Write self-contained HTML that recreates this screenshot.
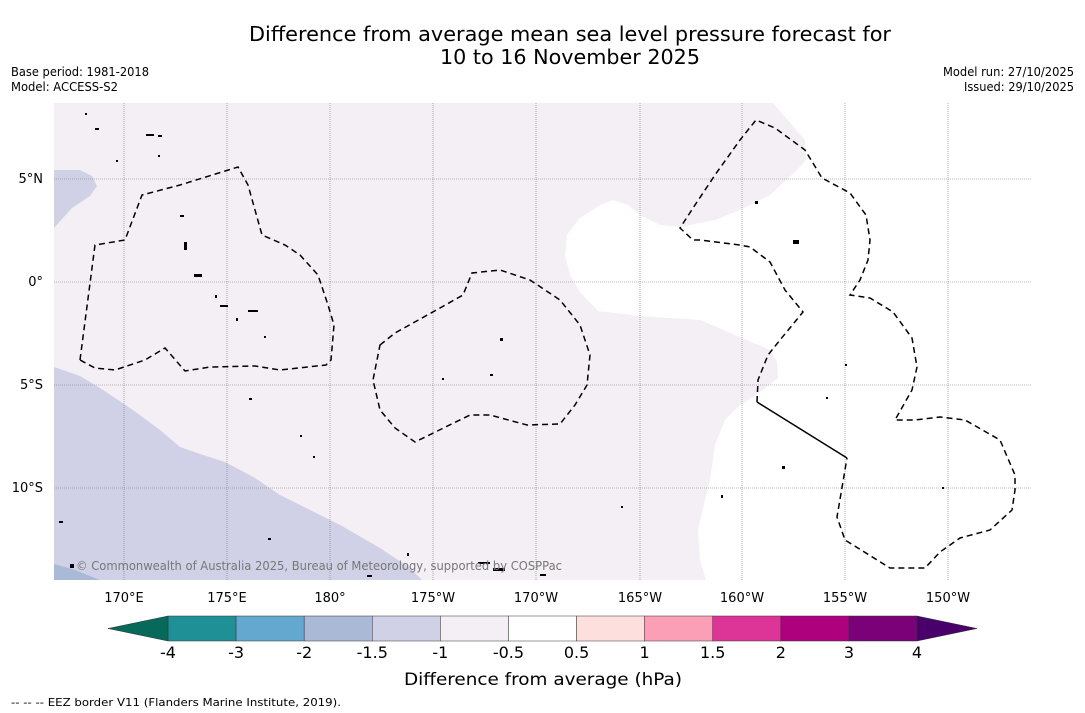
<!DOCTYPE html>
<html><head><meta charset="utf-8"><style>
html,body{margin:0;padding:0;background:#fff;}
svg{display:block;font-family:"DejaVu Sans","Liberation Sans",sans-serif;}
</style></head><body>
<svg id="fig" width="1085" height="713" viewBox="0 0 1085 713" xmlns="http://www.w3.org/2000/svg">
<text x="570" y="41" text-anchor="middle" font-size="20" textLength="642" lengthAdjust="spacingAndGlyphs">Difference from average mean sea level pressure forecast for</text>
<text x="570" y="64" text-anchor="middle" font-size="20" textLength="260" lengthAdjust="spacingAndGlyphs">10 to 16 November 2025</text>
<text x="11" y="76" font-size="12" textLength="138" lengthAdjust="spacingAndGlyphs">Base period: 1981-2018</text>
<text x="11" y="91" font-size="12" textLength="107" lengthAdjust="spacingAndGlyphs">Model: ACCESS-S2</text>
<text x="1074" y="76" font-size="12" text-anchor="end" textLength="131" lengthAdjust="spacingAndGlyphs">Model run: 27/10/2025</text>
<text x="1074" y="91" font-size="12" text-anchor="end" textLength="110" lengthAdjust="spacingAndGlyphs">Issued: 29/10/2025</text>

<g>
<clipPath id="mc"><rect x="54" y="103" width="977" height="477"/></clipPath>
<g clip-path="url(#mc)">
<rect x="54" y="103" width="977" height="477" fill="#f4eef5"/>
<path fill="#ffffff" d="M773,103 L1031,103 L1031,580 L706,580 L700,560 L698,530 L705,500 L710,480 L715,445 L725,420 L740,405 L760,392 L778,378 L777,362 L770,350 L740,337 L700,320 L640,316 L598,311 L580,292 L570,275 L565,255 L567,235 L580,218 L600,205 L613,200 L628,205 L640,215 L660,225 L680,227 L715,220 L740,210 L770,195 L795,172 L806,160 L805,140 Z"/>
<path fill="#d0d1e6" d="M54,170 L80,170 L92,176 L97,186 L90,196 L72,208 L54,228 Z"/>
<path fill="#d0d1e6" d="M54,367 L80,376 L100,388 L130,408 L160,430 L180,447 L200,454 L225,462 L255,478 L280,495 L310,510 L340,525 L380,548 L410,568 L422,580 L54,580 Z"/>
<path fill="#a9b9d6" d="M54,564 L75,570 L100,580 L54,580 Z"/>
<g stroke="#777" stroke-width="0.6" stroke-dasharray="1,1">
<line x1="124" y1="103" x2="124" y2="580"/><line x1="227" y1="103" x2="227" y2="580"/><line x1="330" y1="103" x2="330" y2="580"/><line x1="433" y1="103" x2="433" y2="580"/><line x1="536" y1="103" x2="536" y2="580"/><line x1="640" y1="103" x2="640" y2="580"/><line x1="742" y1="103" x2="742" y2="580"/><line x1="845" y1="103" x2="845" y2="580"/><line x1="948" y1="103" x2="948" y2="580"/>
<line x1="54" y1="179" x2="1031" y2="179"/><line x1="54" y1="282" x2="1031" y2="282"/><line x1="54" y1="385" x2="1031" y2="385"/><line x1="54" y1="488" x2="1031" y2="488"/>
</g>
<g fill="none" stroke="#000" stroke-width="1.5" stroke-dasharray="6,4">
<path d="M80,360 L95,245 L125,240 L142,195 L180,185 L238,167 L248,185 L262,235 L285,245 L300,255 L318,275 L328,305 L334,325 L331,360 L326,365 L280,370 L255,366 L210,367 L185,371 L165,348 L145,360 L115,370 L95,368 Z"/>
<path d="M380,345 L395,333 L440,308 L463,295 L472,273 L500,270 L530,280 L560,300 L580,325 L590,355 L587,385 L575,405 L560,424 L527,425 L490,415 L470,415 L415,442 L395,428 L380,410 L373,380 Z"/>
<path d="M757,402 L758,380 L768,355 L780,340 L803,312 L785,290 L770,262 L750,247 L740,245 L700,240 L693,240 L680,228 L695,205 L715,175 L740,140 L756,120 L775,128 L805,150 L822,178 L850,193 L866,215 L870,240 L868,260 L860,280 L850,295 L870,298 L893,312 L912,338 L917,367 L912,390 L895,420 L915,420 L940,417 L965,420 L1000,440 L1015,475 L1015,490 L1012,510 L990,530 L960,538 L940,552 L925,568 L890,568 L845,540 L837,517 L847,458"/>
<path d="M757,402 L847,458" stroke-dasharray="none"/>
</g>
<g fill="#000">
<rect x="85" y="113" width="2" height="2"/><rect x="95" y="128" width="4" height="2"/><rect x="146" y="134" width="8" height="2"/><rect x="158" y="135" width="4" height="2"/><rect x="158" y="155" width="2" height="2"/><rect x="116" y="160" width="2" height="2"/><rect x="180" y="215" width="4" height="2"/><rect x="184" y="242" width="3" height="8"/><rect x="194" y="274" width="8" height="3"/><rect x="215" y="295" width="2" height="3"/><rect x="220" y="305" width="8" height="2"/><rect x="236" y="318" width="2" height="3"/><rect x="248" y="310" width="10" height="2"/><rect x="264" y="336" width="2" height="2"/><rect x="249" y="398" width="3" height="2"/><rect x="300" y="435" width="2" height="2"/><rect x="313" y="456" width="2" height="2"/><rect x="59" y="521" width="4" height="2"/><rect x="268" y="538" width="3" height="2"/><rect x="500" y="338" width="3" height="3"/><rect x="490" y="374" width="3" height="2"/><rect x="442" y="378" width="2" height="2"/><rect x="478" y="562" width="12" height="2"/><rect x="493" y="568" width="12" height="3"/><rect x="367" y="575" width="5" height="2"/><rect x="540" y="574" width="6" height="2"/><rect x="755" y="201" width="3" height="3"/><rect x="793" y="240" width="6" height="4"/><rect x="782" y="466" width="3" height="3"/><rect x="721" y="495" width="2" height="3"/><rect x="845" y="364" width="2" height="2"/><rect x="826" y="397" width="2" height="2"/><rect x="942" y="487" width="2" height="2"/><rect x="621" y="506" width="2" height="2"/><rect x="70" y="564" width="4" height="4"/><rect x="407" y="553" width="2" height="3"/></g>
<text x="76" y="570" font-size="12" fill="#777" textLength="486" lengthAdjust="spacingAndGlyphs">© Commonwealth of Australia 2025, Bureau of Meteorology, supported by COSPPac</text>
</g>
</g>
<g font-size="13">
<text x="43" y="183" text-anchor="end">5°N</text>
<text x="43" y="286" text-anchor="end">0°</text>
<text x="43" y="389" text-anchor="end">5°S</text>
<text x="43" y="492" text-anchor="end">10°S</text>
<text x="124" y="602" text-anchor="middle">170°E</text>
<text x="227" y="602" text-anchor="middle">175°E</text>
<text x="330" y="602" text-anchor="middle">180°</text>
<text x="433" y="602" text-anchor="middle">175°W</text>
<text x="536" y="602" text-anchor="middle">170°W</text>
<text x="640" y="602" text-anchor="middle">165°W</text>
<text x="742" y="602" text-anchor="middle">160°W</text>
<text x="845" y="602" text-anchor="middle">155°W</text>
<text x="948" y="602" text-anchor="middle">150°W</text>
</g>
<g id="cbar"></g>
<text x="543" y="685" text-anchor="middle" font-size="17" textLength="278" lengthAdjust="spacingAndGlyphs">Difference from average (hPa)</text>
<text x="11" y="706" font-size="11" textLength="330" lengthAdjust="spacingAndGlyphs">-- -- -- EEZ border V11 (Flanders Marine Institute, 2019).</text>
</svg>
<script>
const levelLabels = ["-4","-3","-2","-1.5","-1","-0.5","0.5","1","1.5","2","3","4"];
const binColors = ["#1f9096","#64a8d0","#a9b9d6","#d0d1e6","#f4eef5","#ffffff","#fde0dd","#fa9fb5","#dd3497","#ae017e","#7a0177"];
const underColor = "#07695a";
const overColor = "#49006a";
const NS = "http://www.w3.org/2000/svg";
const g = document.getElementById('cbar');
const x0 = 168, x1 = 917, y0 = 616, h = 25;
const w = (x1 - x0) / binColors.length;
function bx(i){ return x0 + i * w; }
binColors.forEach((c, i) => {
  const r = document.createElementNS(NS, 'rect');
  r.setAttribute('x', bx(i)); r.setAttribute('y', y0);
  r.setAttribute('width', w); r.setAttribute('height', h);
  r.setAttribute('fill', c); r.setAttribute('stroke', '#333'); r.setAttribute('stroke-width', '0.5');
  
  
  g.appendChild(r);
});
const la = document.createElementNS(NS, 'polygon');
la.setAttribute('points', `${x0},${y0} ${x0},${y0+h} 108,${y0+h/2}`);
la.setAttribute('fill', underColor); la.setAttribute('stroke', '#333'); la.setAttribute('stroke-width', '0.5');


g.appendChild(la);
const ra = document.createElementNS(NS, 'polygon');
ra.setAttribute('points', `${x1},${y0} ${x1},${y0+h} 977,${y0+h/2}`);
ra.setAttribute('fill', overColor); ra.setAttribute('stroke', '#333'); ra.setAttribute('stroke-width', '0.5');


g.appendChild(ra);
levelLabels.forEach((t, i) => {
  const tx = document.createElementNS(NS, 'text');
  tx.setAttribute('x', bx(i)); tx.setAttribute('y', 658);
  tx.setAttribute('text-anchor', 'middle'); tx.setAttribute('font-size', '16');
  tx.textContent = t;
  
  
  g.appendChild(tx);
});
</script>
</body></html>
